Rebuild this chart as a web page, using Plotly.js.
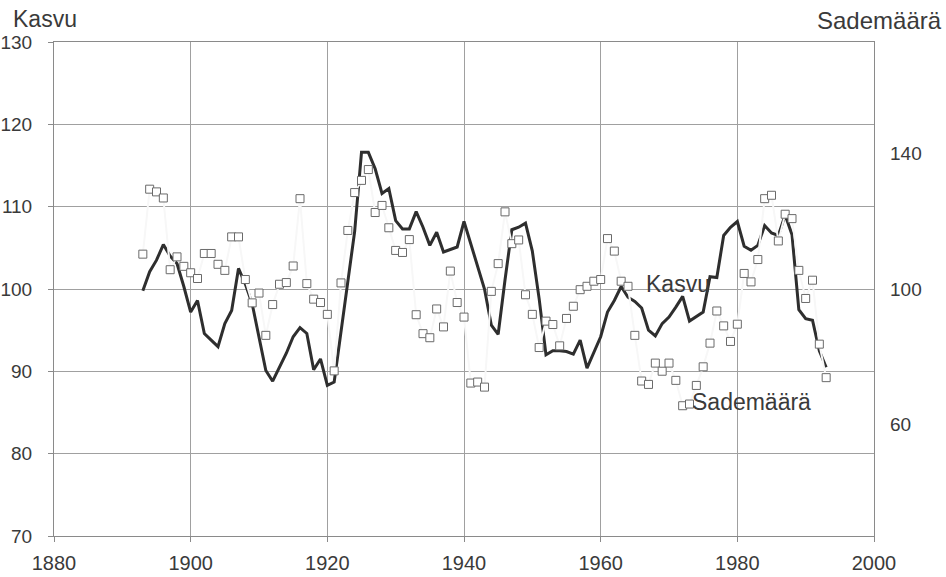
<!DOCTYPE html>
<html>
<head>
<meta charset="utf-8">
<script src="https://cdn.plot.ly/plotly-3.0.1.min.js"></script>
<style>html,body{margin:0;padding:0;background:#fff;}#chart{width:946px;height:577px;}</style>
</head>
<body>
<div id="chart"></div>
<script>
// Years for both series
const years = [];
for (let y = 1893; y <= 1993; y++) years.push(y);

// Kasvu (growth index, left axis)
const kasvu = [
  99.8, 102.1, 103.5, 105.4, 104.0, 103.1, 100.3, 97.2, 98.6, 94.6,
  93.8, 93.0, 95.8, 97.4, 102.5, 100.6, 98.2, 94.2, 90.1, 88.8,
  90.5, 92.2, 94.2, 95.3, 94.6, 90.2, 91.5, 88.3, 88.7, 95.0,
  101.0, 107.0, 116.6, 116.6, 114.6, 111.6, 112.2, 108.3, 107.3, 107.3,
  109.4, 107.5, 105.3, 106.9, 104.5, 104.8, 105.1, 108.2, 105.4, 102.8,
  100.0, 95.6, 94.5, 101.1, 107.2, 107.5, 108.0, 104.6, 98.8, 92.0,
  92.5, 92.5, 92.4, 92.1, 93.8, 90.4, 92.3, 94.2, 97.2, 98.6,
  100.3, 99.0, 98.5, 97.7, 95.0, 94.3, 95.8, 96.6, 97.8, 99.1,
  96.1, 96.6, 97.2, 101.5, 101.4, 106.5, 107.5, 108.2, 105.2, 104.7,
  105.3, 107.7, 106.8, 106.5, 109.0, 106.6, 97.5, 96.4, 96.2, 92.5,
  90.5
];

// Sademäärä (precipitation, right axis)
const sademaara = [
  110.3, 129.5, 128.7, 126.9, 105.7, 109.5, 106.7, 104.8, 103.1, 110.5,
  110.5, 107.3, 105.5, 115.4, 115.4, 102.8, 95.9, 98.8, 86.3, 95.4,
  101.4, 101.9, 106.8, 126.7, 101.6, 97.0, 96.0, 92.5, 75.8, 101.8,
  117.3, 128.5, 132.1, 135.3, 122.6, 124.7, 118.1, 111.4, 110.8, 114.6,
  92.4, 86.8, 85.6, 94.1, 88.8, 105.3, 96.0, 91.7, 72.2, 72.5,
  71.0, 99.3, 107.5, 122.8, 113.4, 114.5, 98.3, 92.5, 82.7, 90.5,
  89.5, 83.2, 91.3, 94.9, 99.8, 100.8, 102.3, 102.8, 114.9, 111.2,
  102.3, 100.8, 86.3, 72.8, 71.8, 78.1, 75.7, 78.1, 73.0, 65.5,
  66.0, 71.5, 77.0, 84.0, 93.5, 89.1, 84.5, 89.6, 104.6, 102.1,
  108.7, 126.7, 127.7, 114.2, 122.1, 120.8, 105.5, 97.2, 102.6, 83.7,
  73.8
];

const xTicks = [1880, 1900, 1920, 1940, 1960, 1980, 2000];
const yTicks = [70, 80, 90, 100, 110, 120, 130];
const y2Ticks = [60, 100, 140];

const FONT = '"Liberation Sans", Arial, sans-serif';
const TXT = '#3a3a3a';

const traces = [
  {
    x: years, y: kasvu, type: 'scatter', mode: 'lines', name: 'Kasvu',
    line: {color: '#2e2e2e', width: 3}, yaxis: 'y', hoverinfo: 'skip'
  },
  {
    x: years, y: sademaara, type: 'scatter', mode: 'lines+markers', name: 'Sademäärä',
    line: {color: '#f7f7f7', width: 2},
    marker: {symbol: 'square', size: 8, color: '#ffffff', line: {color: '#6a6a6a', width: 1}},
    yaxis: 'y2', hoverinfo: 'skip'
  }
];

const layout = {
  width: 946, height: 577,
  margin: {l: 54, r: 72, t: 42, b: 41, pad: 0},
  paper_bgcolor: '#ffffff', plot_bgcolor: '#ffffff',
  showlegend: false,
  font: {family: FONT, color: TXT, size: 19},
  xaxis: {
    range: [1880, 2000], tickvals: xTicks, ticktext: xTicks.map(String),
    showgrid: true, gridcolor: '#a0a0a0', gridwidth: 1,
    showline: true, linecolor: '#8a8a8a', linewidth: 1, mirror: true,
    ticks: 'outside', ticklen: 5, tickcolor: '#8a8a8a', ticklabelstandoff: 4,
    tickfont: {family: FONT, size: 20, color: TXT},
    zeroline: false, fixedrange: true
  },
  yaxis: {
    range: [70, 130], tickvals: yTicks, ticktext: yTicks.map(String),
    showgrid: true, gridcolor: '#a0a0a0', gridwidth: 1,
    showline: true, linecolor: '#8a8a8a', linewidth: 1, mirror: true,
    ticks: 'outside', ticklen: 5, tickcolor: '#8a8a8a', ticklabelstandoff: 12,
    tickfont: {family: FONT, size: 19, color: TXT},
    zeroline: false, fixedrange: true
  },
  yaxis2: {
    range: [27, 173], tickvals: y2Ticks, ticktext: y2Ticks.map(String),
    overlaying: 'y', side: 'right', showgrid: false, showline: false,
    ticks: '', ticklabelstandoff: 15,
    tickfont: {family: FONT, size: 19, color: TXT},
    zeroline: false, fixedrange: true
  },
  annotations: [
    {text: 'Kasvu', xref: 'paper', yref: 'paper', x: -0.053, y: 1.047,
     xanchor: 'left', yanchor: 'middle', showarrow: false,
     font: {family: FONT, size: 23, color: TXT}},
    {text: 'Sademäärä', xref: 'paper', yref: 'paper', x: 1.085, y: 1.043,
     xanchor: 'right', yanchor: 'middle', showarrow: false,
     font: {family: FONT, size: 24, color: TXT}},
    {text: 'Kasvu', xref: 'x', yref: 'y', x: 1966.4, y: 100.6,
     xanchor: 'left', yanchor: 'middle', showarrow: false,
     font: {family: FONT, size: 23, color: TXT}},
    {text: 'Sademäärä', xref: 'x', yref: 'y', x: 1973.0, y: 86.3,
     xanchor: 'left', yanchor: 'middle', showarrow: false,
     font: {family: FONT, size: 23, color: TXT}}
  ]
};

Plotly.newPlot('chart', traces, layout, {staticPlot: true, displayModeBar: false});
</script>
</body>
</html>
